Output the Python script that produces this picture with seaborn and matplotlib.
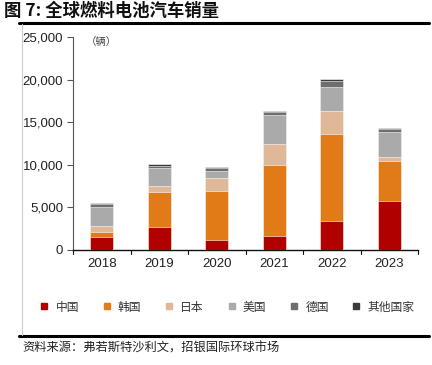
import matplotlib
matplotlib.use("Agg")
import matplotlib.pyplot as plt
import seaborn as sns
import pandas as pd
import numpy as np
from matplotlib.lines import Line2D
from matplotlib.ticker import FuncFormatter

years = ["2018", "2019", "2020", "2021", "2022", "2023"]
china = [1500, 2700, 1150, 1600, 3400, 5800]
korea = [650, 4150, 5800, 8400, 10200, 4700]
japan = [650, 650, 1450, 2450, 2700, 400]
usa = [2300, 2100, 900, 3350, 2800, 3000]
germany = [250, 300, 300, 400, 750, 250]
others = [150, 200, 150, 150, 250, 150]

series_names = ["中国", "韩国", "日本", "美国", "德国", "其他国家"]
series_vals = [china, korea, japan, usa, germany, others]
colors = ["#B00000", "#E07B18", "#DFB898", "#AAAAAA", "#6E6E6E", "#3A3A3A"]

sns.set_theme(style="white")
plt.rcParams['font.family'] = ['Noto Sans CJK SC', 'DejaVu Sans']

fig = plt.figure(figsize=(4.32, 3.65), dpi=100)
ax = fig.add_axes([73/432, 1-250/365, (418-73)/432, (250-37)/365])

bottom = np.zeros(len(years))
for name, vals, c in zip(series_names, series_vals, colors):
    df = pd.DataFrame({"year": years, "v": np.array(vals) + bottom})
    sns.barplot(data=df, x="year", y="v", color=c, width=0.4, ax=ax,
                edgecolor="white", linewidth=0.4, saturation=1)
    bottom += np.array(vals)

# taller cumulative bars behind shorter ones
for i, cont in enumerate(ax.containers):
    for p in cont:
        p.set_zorder(10 - i)

ax.set_ylim(0, 25000)
ax.set_xlim(-0.5, 5.5)
ax.set_yticks(range(0, 25001, 5000))
ax.yaxis.set_major_formatter(FuncFormatter(lambda v, p: f"{int(v):,}"))
ax.set_xlabel("")
ax.set_ylabel("")
for s in ["top", "right"]:
    ax.spines[s].set_visible(False)
ax.spines["left"].set_color("#555555")
ax.spines["left"].set_linewidth(0.8)
ax.spines["bottom"].set_color("#111111")
ax.spines["bottom"].set_linewidth(1.0)
ax.tick_params(axis="y", direction="out", length=4, width=0.8, color="#555555",
               labelsize=9.5, colors="#222222", left=True, pad=3)
ax.tick_params(axis="x", length=0, labelsize=9.5, colors="#222222", pad=6)
for lab in ax.get_xticklabels() + ax.get_yticklabels():
    lab.set_family(["Liberation Sans", "DejaVu Sans"])
# x ticks between categories
for xb in np.arange(-0.5, 6.0, 1.0):
    ax.plot([xb, xb], [0, -0.018], transform=ax.get_xaxis_transform(),
            color="#111111", lw=0.8, clip_on=False)

fig.text(86/432, 1-42/365, "（辆）", fontsize=7.5,
         color="#444444", va="center", ha="left")

# legend
handles = [Line2D([0], [0], marker="s", linestyle="", markersize=4.5,
                  markerfacecolor=c, markeredgecolor=c) for c in colors]
fig.legend(handles, series_names, loc="center", bbox_to_anchor=(0.525, 1-307/365),
           ncol=6, frameon=False, fontsize=8.5, handletextpad=0.5, columnspacing=1.9,
           handlelength=0.9, labelcolor="#333333")

# title and frame lines
fig.text(4/432, 1-11/365, "图 7: 全球燃料电池汽车销量", fontsize=12.5, fontweight="bold",
         va="center", ha="left", color="#111111")
fig.add_artist(Line2D([19/432, 429/432], [1-22.5/365, 1-22.5/365], color="black", lw=2.2,
                      transform=fig.transFigure))
fig.add_artist(Line2D([19/432, 429/432], [1-336/365, 1-336/365], color="black", lw=2.2,
                      transform=fig.transFigure))
fig.add_artist(Line2D([21.5/432, 21.5/432], [1-24/365, 1-335/365], color="#CCCCCC", lw=0.8,
                      transform=fig.transFigure))
fig.text(22/432, 1-348/365, "资料来源：弗若斯特沙利文，招银国际环球市场", fontsize=8.8,
         va="center", ha="left", color="#222222")

fig.savefig("out.png", dpi=100)
